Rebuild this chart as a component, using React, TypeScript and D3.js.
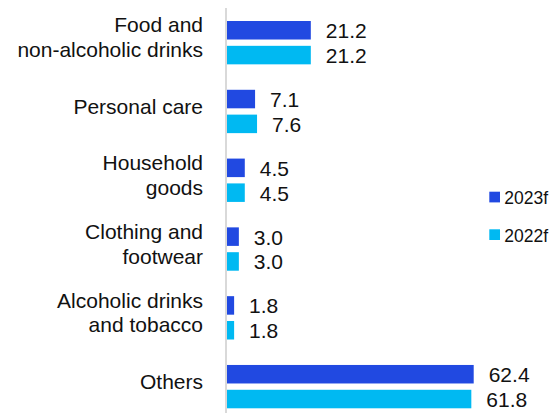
import React from "react";
import * as d3 from "d3";

const categories: string[][] = [
  ["Food and", "non-alcoholic drinks"],
  ["Personal care"],
  ["Household", "goods"],
  ["Clothing and", "footwear"],
  ["Alcoholic drinks", "and tobacco"],
  ["Others"],
];
const seriesNames = ["2023f", "2022f"];
const values2023 = [21.2, 7.1, 4.5, 3.0, 1.8, 62.4];
const values2022 = [21.2, 7.6, 4.5, 3.0, 1.8, 61.8];
const colors = ["#2149E1", "#00B9F2"];

const W = 560;
const H = 413;
const FONT = "'Liberation Sans', Arial, sans-serif";

export default function App() {
  const ids = categories.map((_, i) => String(i));
  const y = d3
    .scaleBand<string>()
    .domain(ids)
    .range([8, 421.3])
    .paddingInner(0.37)
    .paddingOuter(0.189);
  const ySub = d3
    .scaleBand<string>()
    .domain(seriesNames)
    .range([0, y.bandwidth()])
    .paddingInner(0.254)
    .paddingOuter(0);
  const x = d3.scaleLinear().domain([0, 62.4]).range([227, 473.7]);
  const series = [values2023, values2022];

  return (
    <svg
      width={W}
      height={H}
      style={{ position: "absolute", left: 0, top: 0, background: "#fff" }}
      fontFamily={FONT}
    >
      <line x1={226} x2={226} y1={8} y2={H} stroke="#d9d9d9" strokeWidth={2} />
      {categories.map((lines, i) => {
        const top = y(String(i))!;
        const center = top + y.bandwidth() / 2;
        const n = lines.length;
        return (
          <g key={i}>
            {lines.map((ln, j) => (
              <text
                key={j}
                x={203}
                y={center + 2.2 + (j - (n - 1) / 2) * 24.8}
                textAnchor="end"
                fontSize={21}
                fill="#111"
              >
                {ln}
              </text>
            ))}
            {seriesNames.map((s, k) => {
              const v = series[k][i];
              const by = top + ySub(s)!;
              const bh = ySub.bandwidth();
              return (
                <g key={s}>
                  <rect x={x(0)} y={by} width={x(v) - x(0)} height={bh} fill={colors[k]} />
                  <text x={x(v) + 15} y={by + bh / 2 + 8} fontSize={21} fill="#111">
                    {v.toFixed(1)}
                  </text>
                </g>
              );
            })}
          </g>
        );
      })}
      {seriesNames.map((s, k) => (
        <g key={s}>
          <rect x={489.3} y={191.7 + k * 37.6} width={10.7} height={10.7} fill={colors[k]} />
          <text x={504.3} y={204.2 + k * 37.6} fontSize={17.5} fill="#111">
            {s}
          </text>
        </g>
      ))}
    </svg>
  );
}
